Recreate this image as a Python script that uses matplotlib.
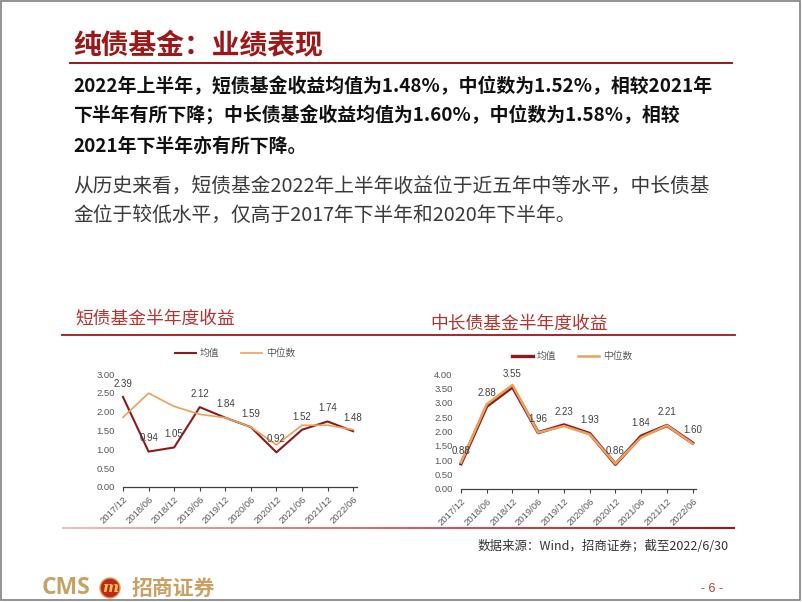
import numpy as np
import matplotlib.pyplot as plt
from matplotlib.collections import LineCollection
from matplotlib.colors import to_rgb
from matplotlib.patches import Rectangle, Circle

plt.rcParams['font.family'] = ['Noto Sans CJK SC', 'DejaVu Sans']

# half-year periods and returns (%)
periods = ['2017/12', '2018/06', '2018/12', '2019/06', '2019/12',
           '2020/06', '2020/12', '2021/06', '2021/12', '2022/06']
short_mean = [2.39, 0.94, 1.05, 2.12, 1.84, 1.59, 0.92, 1.52, 1.74, 1.48]
short_median = [1.85, 2.49, 2.14, 1.93, 1.84, 1.59, 1.12, 1.64, 1.64, 1.52]
long_mean = [0.88, 2.88, 3.55, 1.96, 2.23, 1.93, 0.86, 1.84, 2.21, 1.60]
long_median = [0.92, 2.95, 3.62, 1.96, 2.19, 1.90, 0.88, 1.79, 2.21, 1.58]
series_names = ['均值', '中位数']

title = '纯债基金：业绩表现'
para1 = ['2022年上半年，短债基金收益均值为1.48%，中位数为1.52%，相较2021年',
         '下半年有所下降；中长债基金收益均值为1.60%，中位数为1.58%，相较',
         '2021年下半年亦有所下降。']
para2 = ['从历史来看，短债基金2022年上半年收益位于近五年中等水平，中长债基',
         '金位于较低水平，仅高于2017年下半年和2020年下半年。']
chart_titles = ['短债基金半年度收益', '中长债基金半年度收益']
source = '数据来源：Wind，招商证券；截至2022/6/30'

W, H = 802, 602
DARK_RED = '#9E1616'
LINE_RED = '#8E1A1A'
ORANGE = '#EBA15E'
GOLD = '#C9A164'

fig = plt.figure(figsize=(W / 100, H / 100), dpi=100)

# page layer in pixel coordinates
page = fig.add_axes([0, 0, 1, 1])
page.set_xlim(0, W)
page.set_ylim(H, 0)
page.axis('off')

page.add_patch(Rectangle((1, 1), 799, 599, fill=False, ec='#808080', lw=1.2))

page.text(73, 45, title, fontsize=20, fontweight='bold', color=DARK_RED, va='center')
page.plot([70, 732], [63, 63], color='#A01515', lw=1.4)

for i, line in enumerate(para1):
    page.text(73, 86 + 30 * i, line, fontsize=13.6, fontweight='bold', color='#111111', va='center')
for i, line in enumerate(para2):
    page.text(73, 186 + 30 * i, line, fontsize=14.2, color='#3a3a3a', va='center')

page.text(75, 319, chart_titles[0], fontsize=12.8, color='#B8322E', va='center')
page.text(430, 324, chart_titles[1], fontsize=12.8, color='#B8322E', va='center')
page.plot([62, 735], [335, 335], color='#A01515', lw=1.3)

# gradient rule under the charts
xs = np.linspace(62, 735, 120)
segs = [[(xs[i], 528), (xs[i + 1], 528)] for i in range(len(xs) - 1)]
c0, c1 = np.array(to_rgb('#EBC0C0')), np.array(to_rgb('#A01515'))
cols = [c0 + (c1 - c0) * t for t in np.linspace(0, 1, len(segs))]
page.add_collection(LineCollection(segs, colors=cols, lw=1.5))

page.text(729, 546, source, fontsize=9, color='#333333', ha='right', va='center')

# logo and page number
page.text(42, 588, 'CMS', fontsize=16.5, fontweight='bold', color=GOLD, va='center',
          family='Open Sans')
page.add_patch(Circle((110, 588), 10, color='#C0281C', ec='#D9A64E', lw=1))
page.text(110, 588, 'm', fontsize=11, fontweight='bold', style='italic', color='#F2C65A',
          ha='center', va='center', family='DejaVu Serif')
page.text(132, 588, '招商证券', fontsize=15, fontweight='bold', color=GOLD, va='center')
page.text(712, 589, '- 6 -', fontsize=9, color='#C0392B', ha='center', va='center',
          family='Liberation Sans')


def draw_chart(left, right, bottom, top, xmax, ymax, mean, median, lws, legend_xy):
    ax = fig.add_axes([left / W, 1 - bottom / H, (right - left) / W, (bottom - top) / H])
    ax.patch.set_alpha(0)
    x = np.arange(len(periods))
    ax.plot(x, mean, color=LINE_RED, lw=lws[0], label=series_names[0], clip_on=False)
    ax.plot(x, median, color=ORANGE, lw=lws[1], label=series_names[1], clip_on=False)
    for xi, v in zip(x, mean):
        ax.annotate(f'{v:.2f}', (xi, v), xytext=(0, 9.5), textcoords='offset points',
                    ha='center', va='center', fontsize=7, color='#404040',
                    family='Liberation Sans')
    ax.set_xlim(0, xmax)
    ax.set_ylim(0, ymax)
    ax.set_yticks(np.arange(0, ymax + 0.01, 0.5))
    ax.yaxis.set_major_formatter(lambda v, p: f'{v:.2f}')
    ax.set_xticks(x)
    ax.set_xticklabels(periods, rotation=45, ha='right', va='top', rotation_mode='anchor')
    for s in ['left', 'right', 'top']:
        ax.spines[s].set_visible(False)
    ax.spines['bottom'].set_color('#404040')
    ax.spines['bottom'].set_linewidth(0.9)
    ax.tick_params(axis='y', length=0, pad=6, labelsize=6.8, labelcolor='#595959')
    ax.tick_params(axis='x', length=3, width=0.8, color='#404040', pad=2.5,
                   labelsize=6.8, labelcolor='#595959')
    for lab in ax.get_xticklabels() + ax.get_yticklabels():
        lab.set_family('Liberation Sans')
    leg = ax.legend(loc='center', bbox_to_anchor=(legend_xy[0] / W, 1 - legend_xy[1] / H),
                    bbox_transform=fig.transFigure, ncol=2, frameon=False, fontsize=7,
                    handlelength=2.2, columnspacing=2.2, handletextpad=0.4)
    for t in leg.get_texts():
        t.set_color('#595959')
    return ax


draw_chart(123, 357, 487, 374, 9.15, 3, short_mean, short_median, (1.5, 1.2), (235, 353))
draw_chart(461, 696, 489, 374, 9.13, 4, long_mean, long_median, (2.4, 1.8), (572, 356))

fig.savefig('out.png', dpi=100)
